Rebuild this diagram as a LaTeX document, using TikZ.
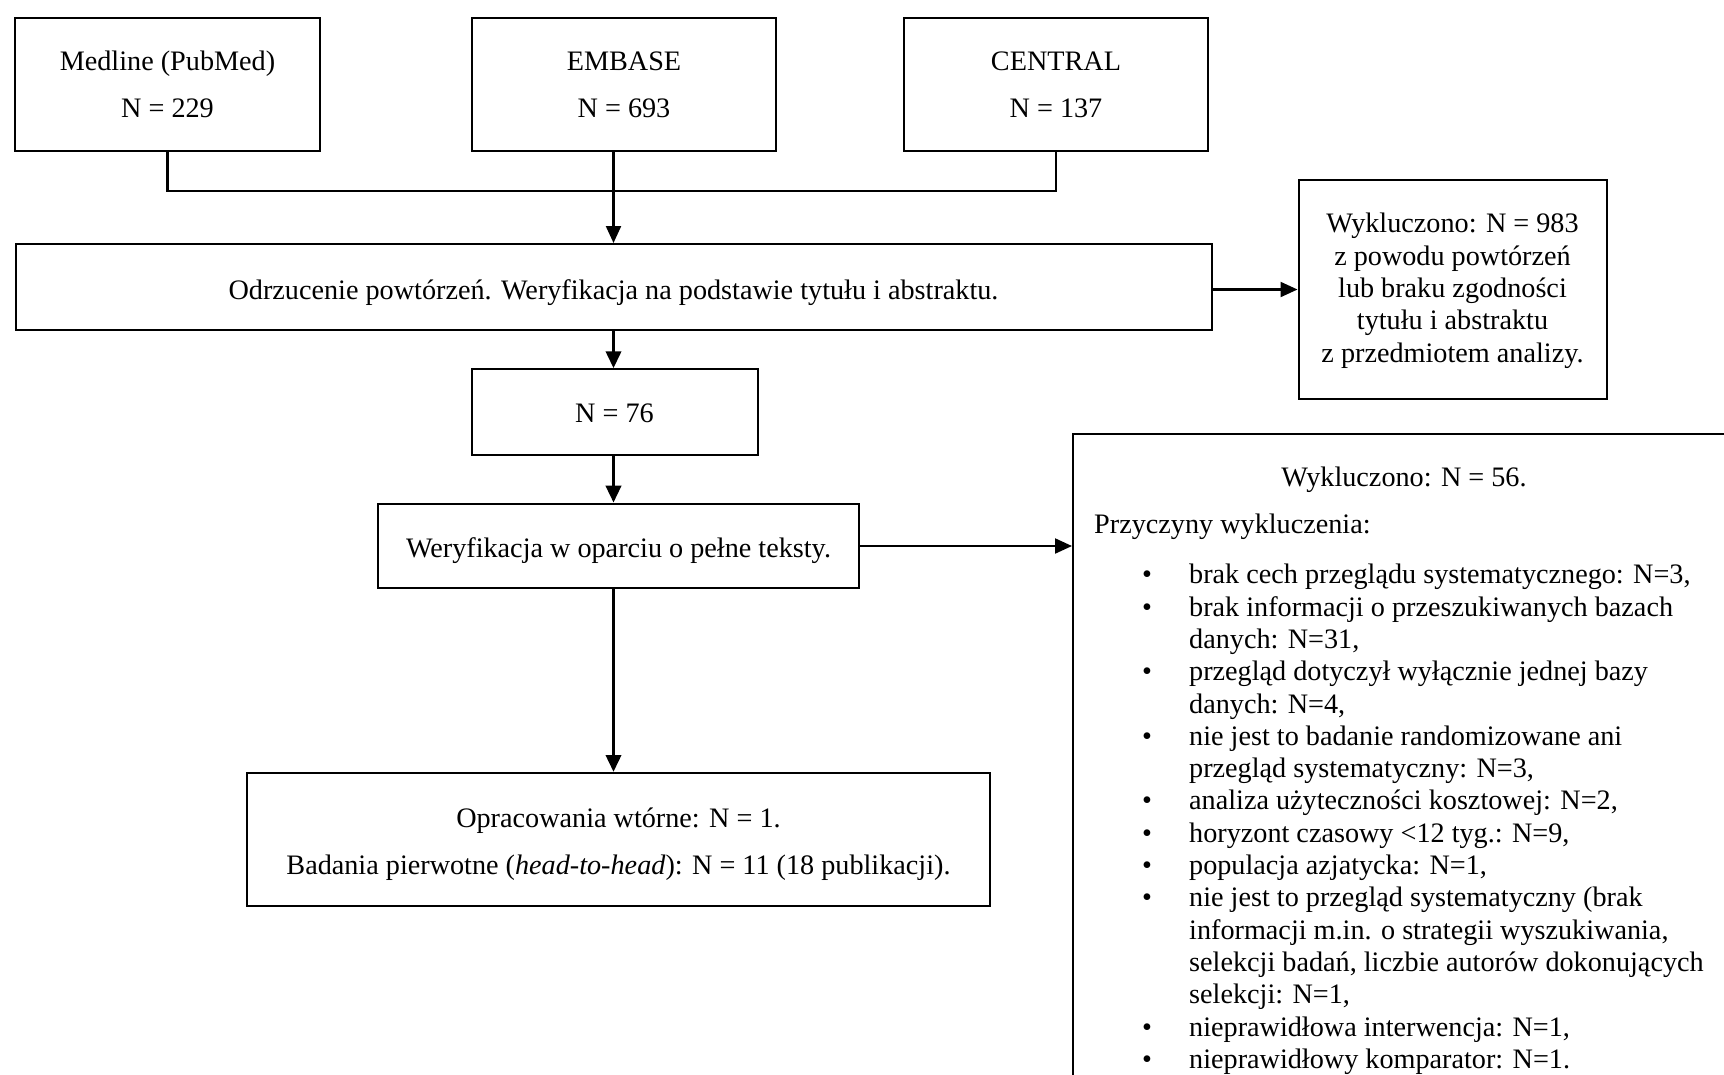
\documentclass[tikz,border=0pt]{standalone}
\usepackage{fontspec}
\setmainfont{Liberation Serif}
\usetikzlibrary{arrows.meta}
\newcommand\myfs{\fontsize{28.2}{32.3}\selectfont}
\begin{document}
\begin{tikzpicture}[x=1pt,y=-1pt,
  box/.style={draw, line width=2pt, inner sep=0pt, align=center, font=\myfs},
  conn/.style={line width=2.2pt},
  arr/.style={line width=2.2pt, -{Triangle[length=17pt,width=15pt]}},
  marr/.style={line width=3.6pt, -{Triangle[length=17pt,width=15pt]}},
  txt/.style={inner sep=0pt, font=\myfs}]
\useasboundingbox (0,0) rectangle (1724,1074);
\fill[white] (0,0) rectangle (1724,1074);

\node[box, minimum width=305pt, minimum height=133pt] (med) at (167.5,84.5) {Medline (PubMed)\\[14.7pt]N = 229};
\node[box, minimum width=304pt, minimum height=133pt] (emb) at (624,84.5) {EMBASE\\[14.7pt]N = 693};
\node[box, minimum width=304pt, minimum height=133pt] (cen) at (1056,84.5) {CENTRAL\\[14.7pt]N = 137};
\node[box, minimum width=1196pt, minimum height=86pt, text height=30.5pt, text depth=6.1pt] (odr) at (613.5,287) {Odrzucenie powtórzeń. Weryfikacja na podstawie tytułu i abstraktu.};
\node[box, minimum width=308pt, minimum height=219pt] (ex1) at (1452.5,289.5) {\rule{0pt}{22pt}Wykluczono: N = 983\\z powodu powtórzeń\\lub braku zgodności\\tytułu i abstraktu\\z przedmiotem analizy.};
\node[box, minimum width=286pt, minimum height=86pt, text height=20.7pt, text depth=0pt] (n76) at (614.5,412.3) {N = 76};
\node[box, minimum width=481pt, minimum height=84.6pt, text height=28.3pt, text depth=6.1pt] (wer) at (618.5,546) {Weryfikacja w oparciu o pełne teksty.};
\node[box, minimum width=743pt, minimum height=133pt] (fin) at (618.5,839.5) {\rule{0pt}{28.5pt}Opracowania wtórne: N = 1.\\[14.7pt]Badania pierwotne (\textit{head-to-head}): N = 11 (18 publikacji).};

\begin{scope}
\clip (0,0) rectangle (1724,1074);
\node[box, anchor=north west, minimum width=670pt, minimum height=700pt] (ex2) at (1072,433) {};
\end{scope}
\node[txt, anchor=base] (ex2a) at (1404,486.3) {Wykluczono: N = 56.};
\node[txt, anchor=base west] (ex2b) at (1094,533) {Przyczyny wykluczenia:};
\node[txt, anchor=north west, align=left] (ex2c) at (1142,561) {%
\begin{tabular}{@{}p{47pt}@{}l@{}}
\textbullet & brak cech przeglądu systematycznego: N=3,\\
\textbullet & brak informacji o przeszukiwanych bazach\\
 & danych: N=31,\\
\textbullet & przegląd dotyczył wyłącznie jednej bazy\\
 & danych: N=4,\\
\textbullet & nie jest to badanie randomizowane ani\\
 & przegląd systematyczny: N=3,\\
\textbullet & analiza użyteczności kosztowej: N=2,\\
\textbullet & horyzont czasowy <12 tyg.: N=9,\\
\textbullet & populacja azjatycka: N=1,\\
\textbullet & nie jest to przegląd systematyczny (brak\\
 & informacji m.in. o strategii wyszukiwania,\\
 & selekcji badań, liczbie autorów dokonujących\\
 & selekcji: N=1,\\
\textbullet & nieprawidłowa interwencja: N=1,\\
\textbullet & nieprawidłowy komparator: N=1.
\end{tabular}};

\coordinate (jn) at (613.5,191);
\draw[conn] (med.south) |- (jn) -| (cen.south);
\draw[arr] (emb.south -| odr.north) -- (odr.north);
\draw[marr] (odr.south) -- (odr.south |- n76.north);
\draw[marr] (odr.south |- n76.south) -- (odr.south |- wer.north);
\draw[marr] (odr.south |- wer.south) -- (odr.south |- fin.north);
\draw[arr] (ex1.west -| odr.east) -- (ex1.west);
\draw[arr] (wer.east) -- (wer.east -| ex2.west);
\end{tikzpicture}
\end{document}
